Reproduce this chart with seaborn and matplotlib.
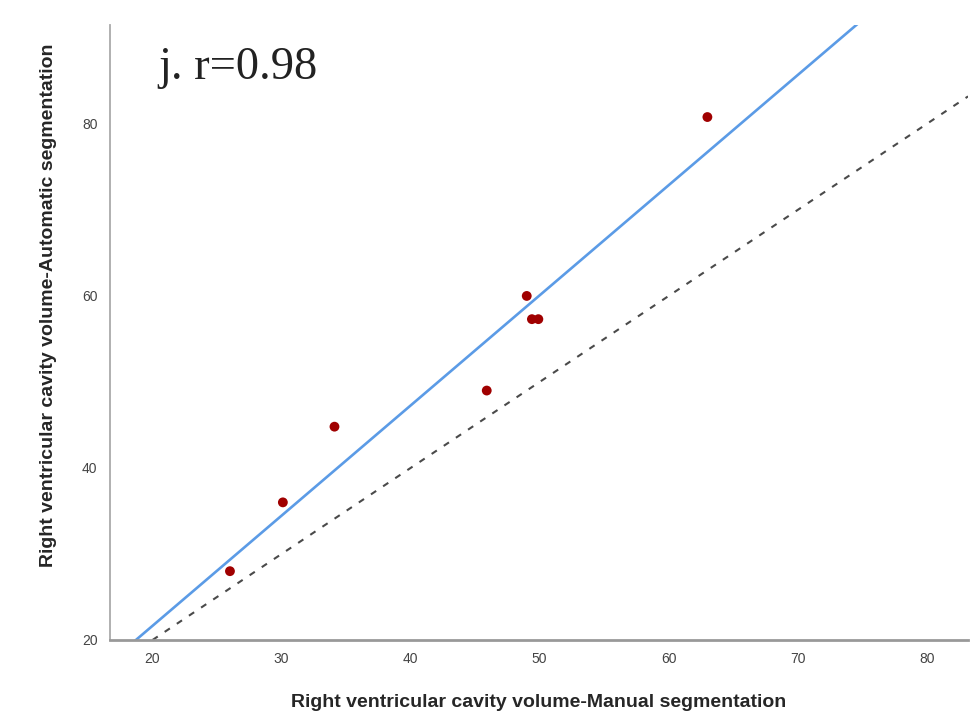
import matplotlib
matplotlib.use("Agg")
import matplotlib.pyplot as plt
import seaborn as sns
import pandas as pd

# Values
manual = [26.0, 30.1, 34.1, 45.9, 49.0, 49.4, 49.9, 63.0]
automatic = [28.0, 36.0, 44.8, 49.0, 60.0, 57.3, 57.3, 80.8]
x_ticks = [20, 30, 40, 50, 60, 70, 80]
y_ticks = [20, 40, 60, 80]
panel_label = "j. r=0.98"

df = pd.DataFrame({"manual": manual, "automatic": automatic})

sns.set_style("white")
plt.rcParams["font.family"] = ["Liberation Sans", "DejaVu Sans"]

fig = plt.figure(figsize=(9.8, 7.27), dpi=100)
ax = fig.add_axes([0.1122, 0.1197, 0.8756, 0.8459])
ax.set_xlim(16.7, 83.2)
ax.set_ylim(20, 91.5)

# identity reference line
ax.axline((20, 20), slope=1, color="#4a4a4a", linestyle=(0, (3, 4)), linewidth=1.5, zorder=1)

sns.regplot(data=df, x="manual", y="automatic", ax=ax, ci=None, truncate=False,
            scatter_kws={"s": 50, "color": "#a00000", "edgecolor": "none",
                         "alpha": 1, "zorder": 3},
            line_kws={"color": "#5b9be6", "linewidth": 1.9, "zorder": 2})

ax.set_xlim(16.7, 83.2)
ax.set_ylim(20, 91.5)
ax.set_xticks(x_ticks)
ax.set_yticks(y_ticks)
ax.tick_params(length=0, labelsize=10, labelcolor="#444444", pad=9)

for side in ["top", "right"]:
    ax.spines[side].set_visible(False)
ax.spines["bottom"].set_color("#999999")
ax.spines["bottom"].set_linewidth(2.0)
ax.spines["left"].set_color("#aaaaaa")
ax.spines["left"].set_linewidth(1.3)

ax.set_xlabel("Right ventricular cavity volume-Manual segmentation",
              fontsize=14, fontweight="bold", labelpad=20)
ax.set_ylabel("Right ventricular cavity volume-Automatic segmentation",
              fontsize=14, fontweight="bold")
ax.yaxis.set_label_coords(-0.062, 0.545)

ax.text(0.056, 0.965, panel_label, transform=ax.transAxes, fontsize=33.5,
        family=["Liberation Serif", "DejaVu Serif"], color="#222222", va="top", ha="left")

fig.savefig("out.png", dpi=100)
